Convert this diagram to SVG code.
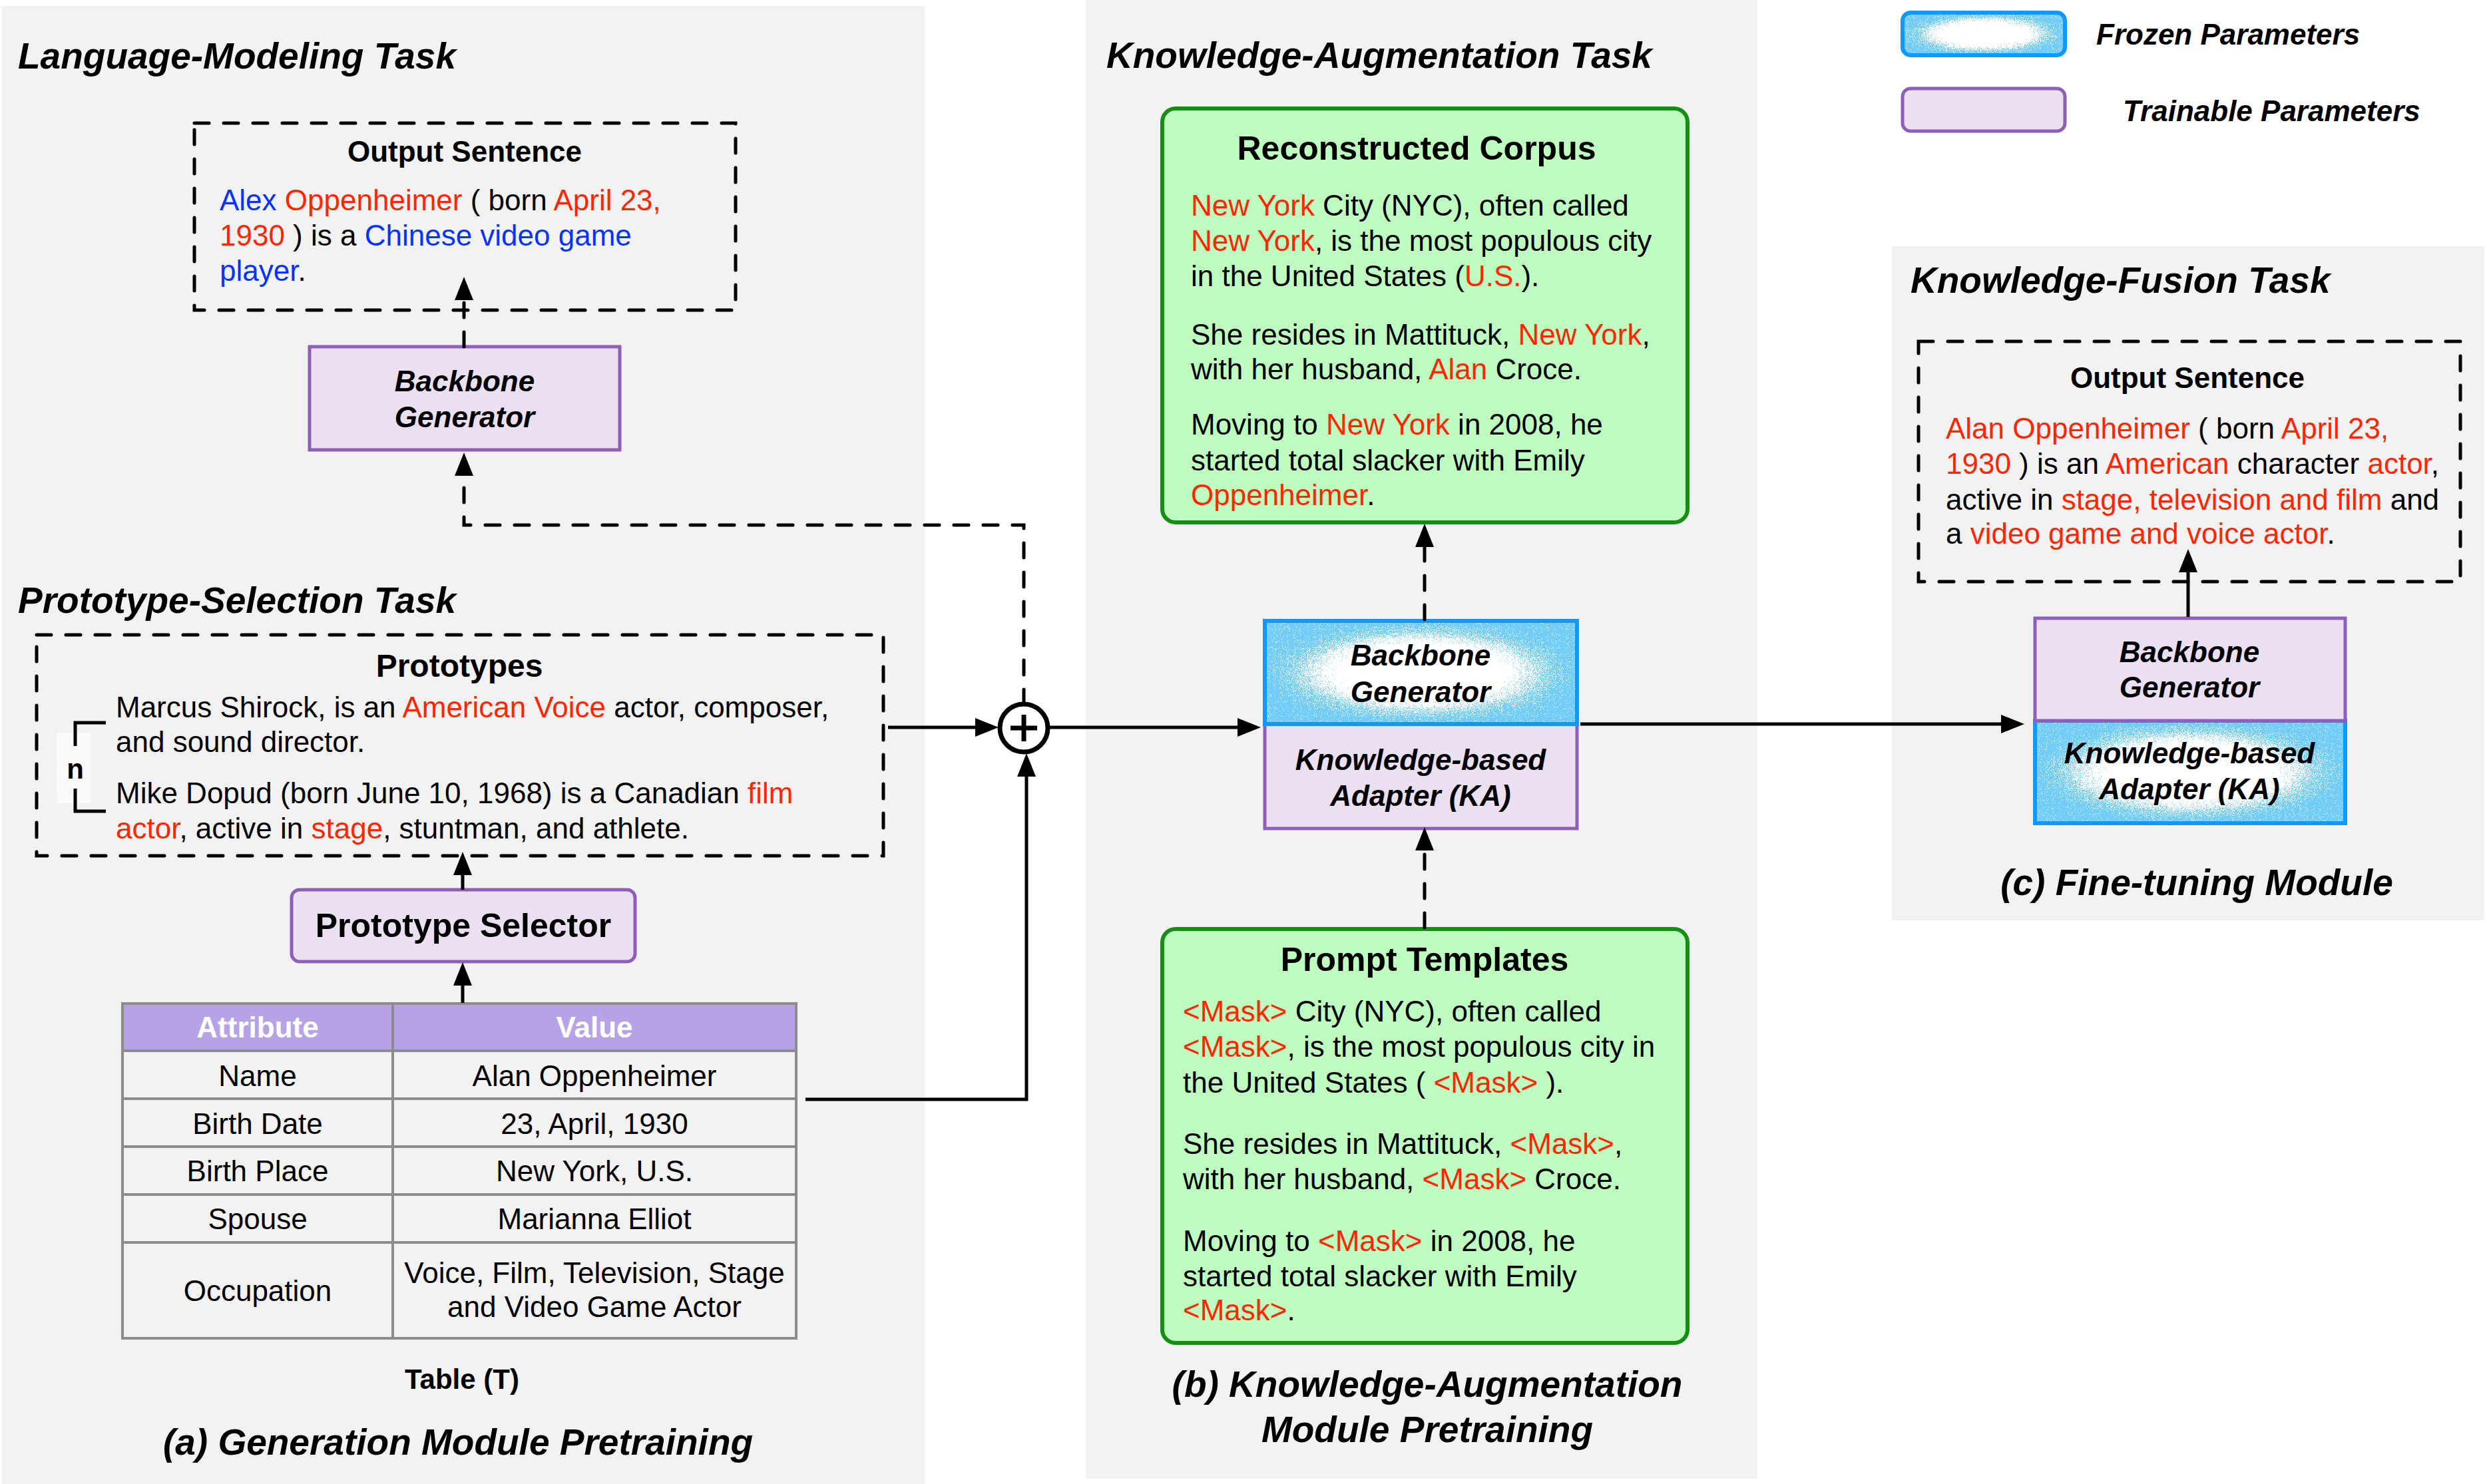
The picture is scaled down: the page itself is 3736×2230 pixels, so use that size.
<svg xmlns="http://www.w3.org/2000/svg" width="3736" height="2230" viewBox="0 0 3736 2230">
<style>
text{font-family:"Liberation Sans",Arial,Helvetica,sans-serif;fill:#000}
.bi{font-weight:bold;font-style:italic}
.b{font-weight:bold}
.tt{font-size:55px}
.bd{font-size:44px}
.r{fill:#ff2600}
.bl{fill:#0433ff}
.w{fill:#fff}
.m{text-anchor:middle}
.panel{fill:#f2f2f2}
.dbox{fill:none;stroke:#000;stroke-width:5;stroke-dasharray:22 22;stroke-linecap:round}
.lav{fill:#ebe0f1;stroke:#8e5fb8;stroke-width:5}
.frz{fill:none;stroke:#1298fc;stroke-width:6}
.green{fill:#bffcbf;stroke:#168e16;stroke-width:6}
.conn{fill:none;stroke:#000;stroke-width:5}
.dash{stroke-dasharray:22 22;stroke-linecap:round}
.grid{stroke:#8c8c8c;stroke-width:4;fill:none}
</style>
<defs>
<marker id="ah" markerUnits="userSpaceOnUse" markerWidth="40" markerHeight="32" refX="10" refY="14" orient="auto">
<path d="M0,0 L35,14 L0,28 z" fill="#000"/>
</marker>
<radialGradient id="fmask" cx="0.5" cy="0.5" r="0.5">
<stop offset="0" stop-color="#000" stop-opacity="0"/>
<stop offset="0.5" stop-color="#000" stop-opacity="0.08"/>
<stop offset="0.8" stop-color="#000" stop-opacity="0.65"/>
<stop offset="1" stop-color="#000" stop-opacity="0.9"/>
</radialGradient>
<filter id="frost" x="0" y="0" width="1" height="1" color-interpolation-filters="sRGB">
<feTurbulence type="fractalNoise" baseFrequency="1.1" numOctaves="2" seed="4" result="noise"/>
<feColorMatrix in="noise" type="matrix" values="0 0 0 0 0  0 0 0 0 0  0 0 0 0 0  1.6 0 0 0 -0.3" result="na"/>
<feComposite in="na" in2="SourceAlpha" operator="arithmetic" k1="0" k2="1" k3="1" k4="-1" result="sum"/>
<feColorMatrix in="sum" type="matrix" values="0 0 0 0 0  0 0 0 0 0  0 0 0 0 0  0 0 0 6 0" result="th"/>
<feFlood flood-color="#72cdf6" result="fl"/>
<feComposite in="fl" in2="th" operator="in"/>
</filter>
</defs>

<g id="panels">
<rect class="panel" x="3" y="9" width="1386" height="2221"/>
<rect class="panel" x="1631" y="0" width="1009" height="2222"/>
<rect class="panel" x="2842" y="370" width="890" height="1013"/>
</g>

<g id="legend">
<g id="legend-frozen">
<rect x="2858" y="19" width="244" height="64" rx="12" fill="#fff"/>
<rect x="2858" y="19" width="244" height="64" rx="12" fill="url(#fmask)" filter="url(#frost)"/>
<rect x="2858" y="19" width="244" height="64" rx="12" class="frz"/>
<text x="3149" y="67" class="bi" font-size="44">Frozen Parameters</text>
</g>
<g id="legend-trainable">
<rect x="2858" y="133" width="244" height="64" rx="12" class="lav"/>
<text x="3189" y="182" class="bi" font-size="44">Trainable Parameters</text>
</g>
</g>

<g id="panel-a-labels">
<text x="27" y="103" class="bi tt">Language-Modeling Task</text>
<text x="27" y="921" class="bi tt">Prototype-Selection Task</text>
<text x="694" y="2087" class="b m" font-size="42">Table (T)</text>
<text x="688" y="2186" class="bi tt m">(a) Generation Module Pretraining</text>
</g>

<g id="output-sentence-a">
<rect x="292" y="185" width="813" height="281" class="dbox"/>
<text x="698" y="243" class="b m" font-size="44">Output Sentence</text>
<text x="330" y="316" class="bd"><tspan class="bl">Alex</tspan> <tspan class="r">Oppenheimer</tspan> ( born <tspan class="r">April 23,</tspan></text>
<text x="330" y="369" class="bd"><tspan class="r">1930</tspan> ) is a <tspan class="bl">Chinese video game</tspan></text>
<text x="330" y="422" class="bd"><tspan class="bl">player</tspan>.</text>
</g>

<g id="backbone-a">
<rect x="465" y="521" width="466" height="155" class="lav"/>
<text x="698" y="588" class="bi m" font-size="44">Backbone</text>
<text x="698" y="642" class="bi m" font-size="44">Generator</text>
</g>

<g id="prototypes">
<rect x="55" y="954" width="1272" height="332" class="dbox"/>
<text x="690" y="1017" class="b m" font-size="48">Prototypes</text>
<text x="174" y="1078" class="bd">Marcus Shirock, is an <tspan class="r">American Voice</tspan> actor, composer,</text>
<text x="174" y="1130" class="bd">and sound director.</text>
<text x="174" y="1207" class="bd">Mike Dopud (born June 10, 1968) is a Canadian <tspan class="r">film</tspan></text>
<text x="174" y="1260" class="bd"><tspan class="r">actor</tspan>, active in <tspan class="r">stage</tspan>, stuntman, and athlete.</text>
<rect x="86" y="1101" width="50" height="106" fill="#fafafa"/>
<path d="M159,1086 L113,1086 L113,1121 M113,1185 L113,1219 L159,1219" fill="none" stroke="#000" stroke-width="5"/>
<text x="113" y="1170" class="b m" font-size="42">n</text>
</g>

<g id="prototype-selector">
<rect x="438" y="1337" width="516" height="108" rx="12" class="lav"/>
<text x="696" y="1408" class="b m" font-size="50">Prototype Selector</text>
</g>

<g id="table">
<rect x="184" y="1508" width="1012" height="71" fill="#b5a3e6"/>
<rect x="184" y="1508" width="1012" height="503" class="grid"/>
<path class="grid" d="M590,1508 V2011 M184,1579 H1196 M184,1651 H1196 M184,1723 H1196 M184,1795 H1196 M184,1867 H1196"/>
<text x="387" y="1559" class="b m w" font-size="44">Attribute</text>
<text x="893" y="1559" class="b m w" font-size="44">Value</text>
<text x="387" y="1632" class="bd m">Name</text>
<text x="893" y="1632" class="bd m">Alan Oppenheimer</text>
<text x="387" y="1704" class="bd m">Birth Date</text>
<text x="893" y="1704" class="bd m">23, April, 1930</text>
<text x="387" y="1775" class="bd m">Birth Place</text>
<text x="893" y="1775" class="bd m">New York, U.S.</text>
<text x="387" y="1847" class="bd m">Spouse</text>
<text x="893" y="1847" class="bd m">Marianna Elliot</text>
<text x="387" y="1955" class="bd m">Occupation</text>
<text x="893" y="1928" class="bd m">Voice, Film, Television, Stage</text>
<text x="893" y="1979" class="bd m">and Video Game Actor</text>
</g>

<g id="plus">
<circle cx="1538" cy="1094" r="36" fill="#fff" stroke="#000" stroke-width="7"/>
<path d="M1518,1094 H1558 M1538,1074 V1114" stroke="#000" stroke-width="7"/>
</g>

<g id="panel-b-labels">
<text x="1662" y="102" class="bi tt">Knowledge-Augmentation Task</text>
<text x="2144" y="2099" class="bi tt m">(b) Knowledge-Augmentation</text>
<text x="2144" y="2167" class="bi tt m">Module Pretraining</text>
</g>

<g id="reconstructed-corpus">
<rect x="1746" y="163" width="789" height="622" rx="20" class="green"/>
<text x="2128" y="240" class="b m" font-size="50">Reconstructed Corpus</text>
<text x="1789" y="324" class="bd"><tspan class="r">New York</tspan> City (NYC), often called</text>
<text x="1789" y="377" class="bd"><tspan class="r">New York</tspan>, is the most populous city</text>
<text x="1789" y="430" class="bd">in the United States (<tspan class="r">U.S.</tspan>).</text>
<text x="1789" y="518" class="bd">She resides in Mattituck, <tspan class="r">New York</tspan>,</text>
<text x="1789" y="570" class="bd">with her husband, <tspan class="r">Alan</tspan> Croce.</text>
<text x="1789" y="653" class="bd">Moving to <tspan class="r">New York</tspan> in 2008, he</text>
<text x="1789" y="707" class="bd">started total slacker with Emily</text>
<text x="1789" y="759" class="bd"><tspan class="r">Oppenheimer</tspan>.</text>
</g>

<g id="generator-adapter-b">
<rect x="1900" y="1088" width="469" height="157" class="lav"/>
<rect x="1900" y="933" width="469" height="155" fill="#fff"/>
<rect x="1900" y="933" width="469" height="155" fill="url(#fmask)" filter="url(#frost)"/>
<rect x="1900" y="933" width="469" height="155" class="frz" stroke-width="5"/>
<text x="2134" y="1000" class="bi m" font-size="44">Backbone</text>
<text x="2134" y="1055" class="bi m" font-size="44">Generator</text>
<text x="2134" y="1157" class="bi m" font-size="44">Knowledge-based</text>
<text x="2134" y="1211" class="bi m" font-size="44">Adapter (KA)</text>
</g>

<g id="prompt-templates">
<rect x="1746" y="1396" width="789" height="622" rx="20" class="green"/>
<text x="2140" y="1459" class="b m" font-size="50">Prompt Templates</text>
<text x="1777" y="1535" class="bd"><tspan class="r">&lt;Mask&gt;</tspan> City (NYC), often called</text>
<text x="1777" y="1588" class="bd"><tspan class="r">&lt;Mask&gt;</tspan>, is the most populous city in</text>
<text x="1777" y="1642" class="bd">the United States ( <tspan class="r">&lt;Mask&gt;</tspan> ).</text>
<text x="1777" y="1734" class="bd">She resides in Mattituck, <tspan class="r">&lt;Mask&gt;</tspan>,</text>
<text x="1777" y="1787" class="bd">with her husband, <tspan class="r">&lt;Mask&gt;</tspan> Croce.</text>
<text x="1777" y="1880" class="bd">Moving to <tspan class="r">&lt;Mask&gt;</tspan> in 2008, he</text>
<text x="1777" y="1933" class="bd">started total slacker with Emily</text>
<text x="1777" y="1984" class="bd"><tspan class="r">&lt;Mask&gt;</tspan>.</text>
</g>

<g id="panel-c-labels">
<text x="2870" y="440" class="bi tt">Knowledge-Fusion Task</text>
<text x="3300" y="1345" class="bi tt m">(c) Fine-tuning Module</text>
</g>

<g id="output-sentence-c">
<rect x="2882" y="513" width="814" height="361" class="dbox"/>
<text x="3286" y="583" class="b m" font-size="44">Output Sentence</text>
<text x="2923" y="659" class="bd"><tspan class="r">Alan Oppenheimer</tspan> ( born <tspan class="r">April 23,</tspan></text>
<text x="2923" y="712" class="bd"><tspan class="r">1930</tspan> ) is an <tspan class="r">American</tspan> character <tspan class="r">actor</tspan>,</text>
<text x="2923" y="766" class="bd">active in <tspan class="r">stage, television and film</tspan> and</text>
<text x="2923" y="817" class="bd">a <tspan class="r">video game and voice actor</tspan>.</text>
</g>

<g id="generator-adapter-c">
<rect x="3057" y="1083" width="466" height="154" fill="#fff"/>
<rect x="3057" y="1083" width="466" height="154" fill="url(#fmask)" filter="url(#frost)"/>
<rect x="3057" y="1083" width="466" height="154" class="frz" stroke-width="5"/>
<rect x="3057" y="929" width="466" height="154" class="lav"/>
<text x="3289" y="995" class="bi m" font-size="44">Backbone</text>
<text x="3289" y="1048" class="bi m" font-size="44">Generator</text>
<text x="3289" y="1147" class="bi m" font-size="44">Knowledge-based</text>
<text x="3289" y="1201" class="bi m" font-size="44">Adapter (KA)</text>
</g>

<g id="connectors">
<path class="conn dash" d="M697,521 V441" marker-end="url(#ah)"/>
<path class="conn dash" d="M1538,1058 V789 H697 V705" marker-end="url(#ah)"/>
<path class="conn" d="M1334,1093 H1475" marker-end="url(#ah)"/>
<path class="conn" d="M1210,1652 H1542 V1157" marker-end="url(#ah)"/>
<path class="conn" d="M1577,1093 H1869" marker-end="url(#ah)"/>
<path class="conn" d="M695,1337 V1305" marker-end="url(#ah)"/>
<path class="conn" d="M695,1507 V1471" marker-end="url(#ah)"/>
<path class="conn dash" d="M2140,931 V812" marker-end="url(#ah)"/>
<path class="conn dash" d="M2140,1394 V1268" marker-end="url(#ah)"/>
<path class="conn" d="M2374,1088 H3016" marker-end="url(#ah)"/>
<path class="conn" d="M3287,927 V850" marker-end="url(#ah)"/>
</g>
</svg>
